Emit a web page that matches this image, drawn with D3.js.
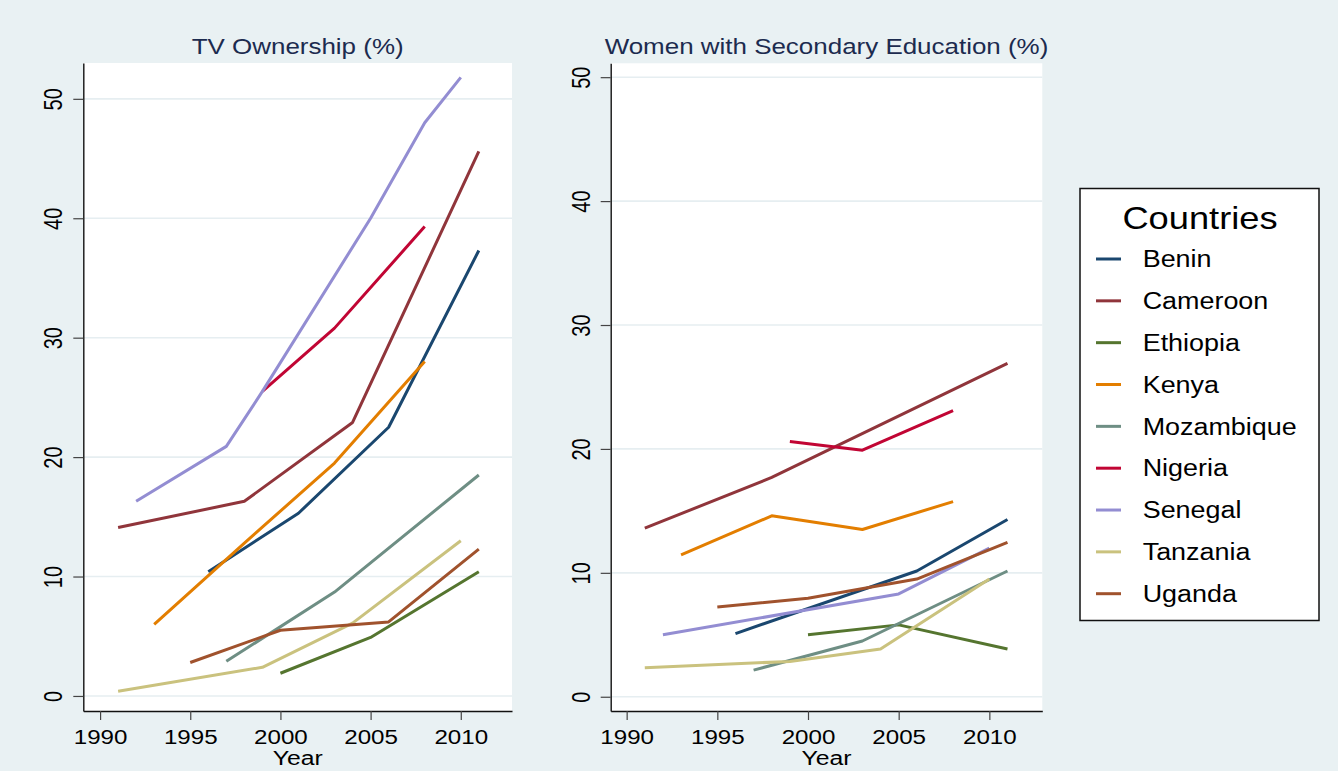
<!DOCTYPE html>
<html>
<head>
<meta charset="utf-8">
<script src="https://cdn.jsdelivr.net/npm/d3@7"></script>
<style>
  body { margin: 0; background: #e9f1f3; }
  svg { display: block; font-family: "Liberation Sans", Arial, sans-serif; }
</style>
</head>
<body>
<svg id="chart" width="1338" height="771"></svg>
<script>
// Country names and their Stata s2color line colours
const countries = ["Benin", "Cameroon", "Ethiopia", "Kenya", "Mozambique",
                   "Nigeria", "Senegal", "Tanzania", "Uganda"];
const lineColors = ["#1a476f", "#90353b", "#55752f", "#e37e00", "#6e8e84",
                    "#c10534", "#938dd2", "#cac27e", "#a0522d"];

const yearTicks = [1990, 1995, 2000, 2005, 2010];
const valueTicks = [0, 10, 20, 30, 40, 50];

// TV ownership (%), [year, value], one array per country (same order as countries)
const tvOwnership = [
  [[1996, 10.4], [2001, 15.3], [2006, 22.5], [2011, 37.3]],
  [[1991, 14.1], [1998, 16.3], [2004, 22.9], [2011, 45.6]],
  [[2000, 1.9], [2005, 4.9], [2011, 10.4]],
  [[1993, 6.0], [1998, 12.8], [2003, 19.5], [2008, 28.0]],
  [[1997, 2.9], [2003, 8.7], [2011, 18.5]],
  [[1999, 25.5], [2003, 30.8], [2008, 39.3]],
  [[1992, 16.3], [1997, 20.9], [1999, 25.5], [2005, 40.0], [2008, 48.0], [2010, 51.8]],
  [[1991, 0.4], [1999, 2.4], [2004, 6.1], [2010, 13.0]],
  [[1995, 2.8], [2000, 5.5], [2006, 6.2], [2011, 12.3]]
];

// Women with secondary education (%)
const womenSecondaryEdu = [
  [[1996, 5.1], [2006, 10.15], [2011, 14.3]],
  [[1991, 13.6], [1998, 17.7], [2011, 26.9]],
  [[2000, 5.0], [2005, 5.8], [2011, 3.85]],
  [[1993, 11.45], [1998, 14.6], [2003, 13.5], [2008, 15.75]],
  [[1997, 2.15], [2003, 4.5], [2011, 10.15]],
  [[1999, 20.6], [2003, 19.9], [2008, 23.1]],
  [[1992, 5.0], [2005, 8.3], [2010, 12.0]],
  [[1991, 2.35], [1999, 2.85], [2004, 3.85], [2010, 9.5]],
  [[1995, 7.25], [2000, 7.95], [2006, 9.5], [2011, 12.45]]
];

var svg = d3.select("#chart");
var stretch = 1.18; // the original text is widened horizontally

svg.append("rect")
    .attr("width", 1338)
    .attr("height", 771)
    .attr("fill", "#e9f1f3");

var color = d3.scaleOrdinal().domain(countries).range(lineColors);

function drawPanel(p) {
    var x = d3.scaleLinear().domain(p.xDomain).range([p.x0, p.x1]);
    var y = d3.scaleLinear().domain(p.yDomain).range([p.y1, p.y0]);

    // plot region
    svg.append("rect")
        .attr("x", p.x0).attr("y", p.y0)
        .attr("width", p.x1 - p.x0).attr("height", p.y1 - p.y0)
        .attr("fill", "#ffffff");

    // horizontal grid
    svg.append("g").selectAll("line")
        .data(valueTicks)
        .enter().append("line")
        .attr("x1", p.x0).attr("x2", p.x1)
        .attr("y1", function (d) { return y(d); })
        .attr("y2", function (d) { return y(d); })
        .attr("stroke", "#e6eef1")
        .attr("stroke-width", 1.6);

    var line = d3.line()
        .x(function (d) { return x(d[0]); })
        .y(function (d) { return y(d[1]); });

    svg.append("g").selectAll("path")
        .data(p.data)
        .enter().append("path")
        .attr("d", line)
        .attr("fill", "none")
        .attr("stroke", function (d, i) { return color(countries[i]); })
        .attr("stroke-width", 3)
        .attr("stroke-linejoin", "round");

    // y axis
    var gy = svg.append("g")
        .attr("transform", "translate(" + p.x0 + ",0)")
        .call(d3.axisLeft(y).tickValues(valueTicks).tickSize(10).tickSizeOuter(0));
    gy.select(".domain").attr("stroke", "#111").attr("stroke-width", 1.4);
    gy.selectAll(".tick line").attr("stroke", "#444").attr("stroke-width", 1.2);
    gy.selectAll(".tick text")
        .attr("x", 0).attr("dy", null)
        .attr("fill", "#000")
        .attr("font-size", 20)
        .attr("font-family", "Liberation Sans, Arial, sans-serif")
        .attr("text-anchor", "middle")
        .attr("transform", "translate(" + p.labelOffset + ",0) scale(1.28,1) rotate(-90)");

    // x axis
    var gx = svg.append("g")
        .attr("transform", "translate(0," + p.y1 + ")")
        .call(d3.axisBottom(x).tickValues(yearTicks).tickFormat(d3.format("d")).tickSize(9).tickSizeOuter(0));
    gx.select(".domain").attr("stroke", "#111").attr("stroke-width", 1.4);
    gx.selectAll(".tick line").attr("stroke", "#444").attr("stroke-width", 1.2);
    gx.selectAll(".tick text")
        .attr("y", 0).attr("dy", null)
        .attr("fill", "#000")
        .attr("font-size", 21)
        .attr("font-family", "Liberation Sans, Arial, sans-serif")
        .attr("transform", "translate(0,33) scale(1.15,1)");

    var cx = (p.x0 + p.x1) / 2;

    svg.append("text")
        .attr("transform", "translate(" + cx + ",54) scale(" + stretch + ",1)")
        .attr("text-anchor", "middle")
        .attr("font-size", 22)
        .attr("fill", "#1c2b4f")
        .text(p.title);

    svg.append("text")
        .attr("transform", "translate(" + cx + ",765) scale(" + stretch + ",1)")
        .attr("text-anchor", "middle")
        .attr("font-size", 21)
        .attr("fill", "#000")
        .text("Year");
}

drawPanel({
    title: "TV Ownership (%)",
    data: tvOwnership,
    x0: 83.3, x1: 512, y0: 63, y1: 711,
    xDomain: [1989.07, 2012.84], yDomain: [-1.26, 53.0],
    labelOffset: -21
});

drawPanel({
    title: "Women with Secondary Education (%)",
    data: womenSecondaryEdu,
    x0: 610.7, x1: 1042.3, y0: 63.3, y1: 711,
    xDomain: [1989.12, 2012.92], yDomain: [-1.15, 51.12],
    labelOffset: -20.7
});

// Legend
var legend = svg.append("g");
legend.append("rect")
    .attr("x", 1080).attr("y", 188.5)
    .attr("width", 239).attr("height", 432)
    .attr("fill", "#ffffff")
    .attr("stroke", "#111")
    .attr("stroke-width", 1.5);

legend.append("text")
    .attr("transform", "translate(1200,229) scale(1.17,1)")
    .attr("text-anchor", "middle")
    .attr("font-size", 31)
    .attr("fill", "#000")
    .text("Countries");

var row = d3.scalePoint().domain(countries).range([259, 593.7]);

var items = legend.selectAll(".item")
    .data(countries)
    .enter().append("g")
    .attr("class", "item");

items.append("line")
    .attr("x1", 1096).attr("x2", 1121)
    .attr("y1", function (d) { return row(d); })
    .attr("y2", function (d) { return row(d); })
    .attr("stroke", function (d) { return color(d); })
    .attr("stroke-width", 3);

items.append("text")
    .attr("transform", function (d) { return "translate(1142.7," + (row(d) + 8.3) + ") scale(1.17,1)"; })
    .attr("font-size", 23)
    .attr("fill", "#000")
    .text(function (d) { return d; });
</script>
</body>
</html>
